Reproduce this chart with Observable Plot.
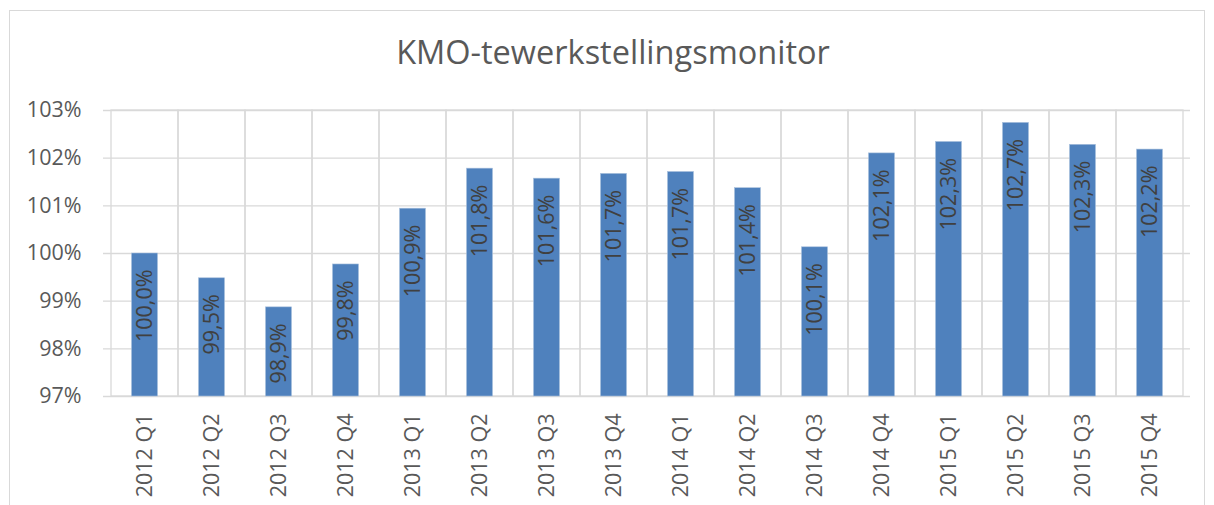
<!DOCTYPE html>
<html>
<head>
<meta charset="utf-8">
<script src="https://cdn.jsdelivr.net/npm/d3@7"></script>
<script src="https://cdn.jsdelivr.net/npm/@observablehq/plot@0.6"></script>
<style>
  html, body { margin: 0; padding: 0; background: #fff; }
  #wrap { position: relative; width: 1214px; height: 505px; overflow: hidden; font-family: "Open Sans", sans-serif; }
  #frame { position: absolute; left: 9px; top: 10px; width: 1196px; height: 560px; border: 1px solid #d9d9d9; box-sizing: border-box; }
  #title { position: relative; box-sizing: border-box; width: 1214px; height: 90px; padding-left: 12px; padding-top: 30px; text-align: center; font-size: 32.5px; line-height: 44px; color: #595959; }
  #chart { position: relative; }
</style>
</head>
<body>
<div id="wrap">
  <div id="frame"></div>
  <div id="title">KMO-tewerkstellingsmonitor</div>
  <div id="chart"></div>
</div>
<script>
const quarters = ["2012 Q1","2012 Q2","2012 Q3","2012 Q4","2013 Q1","2013 Q2","2013 Q3","2013 Q4","2014 Q1","2014 Q2","2014 Q3","2014 Q4","2015 Q1","2015 Q2","2015 Q3","2015 Q4"];
const values = [100.0, 99.48, 98.87, 99.77, 100.94, 101.78, 101.57, 101.67, 101.71, 101.37, 100.13, 102.10, 102.34, 102.74, 102.28, 102.18];
const yTicks = [97, 98, 99, 100, 101, 102, 103];
const baseline = 97;

const data = quarters.map((q, i) => ({q, v: values[i]}));
const fmt = v => v.toFixed(1).replace(".", ",") + "%";

const chart = Plot.plot({
  width: 1214,
  height: 415,
  marginLeft: 103,
  marginRight: 24,
  marginTop: 20,
  marginBottom: 109,
  style: {fontFamily: "Open Sans, sans-serif", fontSize: "21.5px", color: "#595959", background: "transparent"},
  x: {domain: quarters, padding: 0, label: null},
  y: {domain: [yTicks[0], yTicks[yTicks.length - 1]], label: null},
  marks: [
    Plot.ruleY(yTicks, {stroke: "#d9d9d9", strokeWidth: 1.3}),
    Plot.barY(data, {x: "q", y1: () => yTicks[0], y2: () => yTicks[yTicks.length - 1], fill: "none", stroke: "#d9d9d9", strokeWidth: 1.3, inset: 0}),
    Plot.barY(data, {x: "q", y1: () => baseline, y2: "v", fill: "#4f81bd", stroke: "#a9c0dd", strokeWidth: 0.6, insetLeft: 20.5, insetRight: 20.5}),
    Plot.text(data, {x: "q", y: "v", text: d => fmt(d.v), rotate: -90, textAnchor: "end", dy: 16, fill: "#404040", fontSize: 21.5}),
    Plot.axisY(yTicks, {tickSize: 0, tickPadding: 22, tickFormat: d => d + "%", fontSize: 21.5, fill: "#595959"}),
    Plot.axisX({tickSize: 0, tickPadding: 17, tickRotate: -90, fontSize: 21.5, fill: "#595959"})
  ]
});
document.getElementById("chart").appendChild(chart);
</script>
</body>
</html>
